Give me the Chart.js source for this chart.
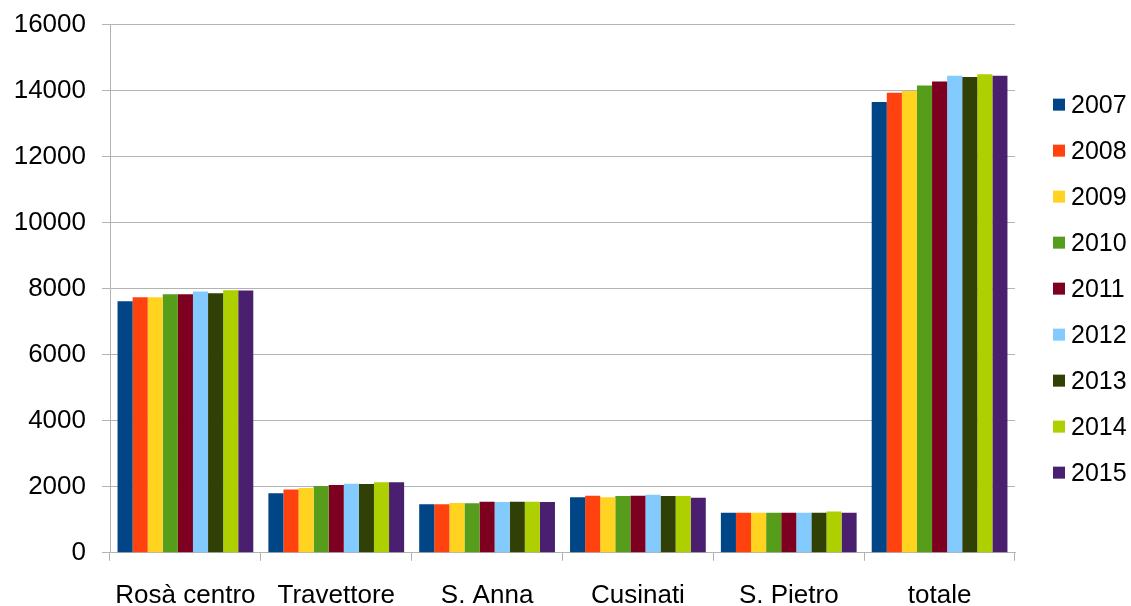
<!DOCTYPE html>
<html>
<head>
<meta charset="utf-8">
<script src="https://cdn.jsdelivr.net/npm/chart.js@4"></script>
<style>
  html, body { margin: 0; padding: 0; background: #fff; overflow: hidden; }
  .wrap { width: 1131px; height: 630px; position: relative; }
</style>
</head>
<body>
<div class="wrap"><canvas id="myChart"></canvas></div>
<script>
// categories and years
const places = ["Rosà centro", "Travettore", "S. Anna", "Cusinati", "S. Pietro", "totale"]
const years = ["2007", "2008", "2009", "2010", "2011", "2012", "2013", "2014", "2015"]

// values per place, one array per year
const y2007 = [7620, 1800, 1467, 1680, 1214, 13650]
const y2008 = [7740, 1920, 1467, 1730, 1214, 13935]
const y2009 = [7740, 1965, 1508, 1680, 1214, 13985]
const y2010 = [7830, 2025, 1497, 1720, 1214, 14150]
const y2011 = [7830, 2055, 1548, 1730, 1214, 14270]
const y2012 = [7915, 2095, 1538, 1760, 1214, 14450]
const y2013 = [7860, 2085, 1548, 1720, 1214, 14410]
const y2014 = [7950, 2135, 1548, 1720, 1254, 14490]
const y2015 = [7945, 2135, 1538, 1670, 1214, 14450]

const series = [y2007, y2008, y2009, y2010, y2011, y2012, y2013, y2014, y2015]
const colors = ["#004586", "#ff420e", "#ffd320", "#579d1c", "#7e0021", "#83caff", "#314004", "#aecf00", "#4b1f6f"]

const gridGray = "#b3b3b3"
const fontFam = "'Liberation Sans', Arial, sans-serif"
const ctx = document.getElementById("myChart")

// legend on the right, drawn by hand so spacing matches
const sideLegend = {
  id: "sideLegend",
  afterDraw(chart) {
    const c = chart.ctx
    const area = chart.chartArea
    const step = 46
    const n = chart.data.datasets.length
    const mid = (area.top + area.bottom) / 2
    const boxX = area.right + 38
    c.save()
    c.font = "25px " + fontFam
    c.textBaseline = "middle"
    c.textAlign = "left"
    chart.data.datasets.forEach((ds, i) => {
      const y = mid + (i - (n - 1) / 2) * step
      c.fillStyle = ds.backgroundColor
      c.fillRect(boxX, y - 6, 12, 12)
      c.fillStyle = "#000"
      c.fillText(ds.label, boxX + 18, y + 1)
    })
    c.restore()
  }
}

const myChart = new Chart(ctx, {
  type: "bar",
  data: {
    labels: places,
    datasets: years.map((yr, i) => ({
      label: yr,
      data: series[i],
      backgroundColor: colors[i],
      borderWidth: 0,
      barPercentage: 1,
      categoryPercentage: 0.9
    }))
  },
  options: {
    responsive: true,
    maintainAspectRatio: false,
    animation: false,
    layout: {
      padding: { top: 24.5, left: 0, right: 116, bottom: 0 }
    },
    plugins: {
      tooltip: { enabled: false },
      legend: { display: false }
    },
    scales: {
      x: {
        grid: {
          offset: true,
          drawOnChartArea: true,
          tickLength: 8,
          // only the right edge line is drawn on the plot
          color: (c) => c.index === places.length ? gridGray : "rgba(0,0,0,0)",
          tickColor: gridGray
        },
        border: { color: gridGray },
        ticks: {
          color: "#000",
          padding: 19,
          maxRotation: 0,
          font: { family: fontFam, size: 26 }
        }
      },
      y: {
        min: 0,
        max: 16000,
        afterFit: (scale) => {
          scale.width = 110
          scale.paddingTop = 0
          scale.paddingBottom = 0
        },
        ticks: {
          stepSize: 2000,
          color: "#000",
          padding: 16,
          callback: (v) => String(v),
          font: { family: fontFam, size: 26 }
        },
        grid: { color: gridGray, tickLength: 8 },
        border: { color: gridGray }
      }
    }
  },
  plugins: [sideLegend]
})
</script>
</body>
</html>
